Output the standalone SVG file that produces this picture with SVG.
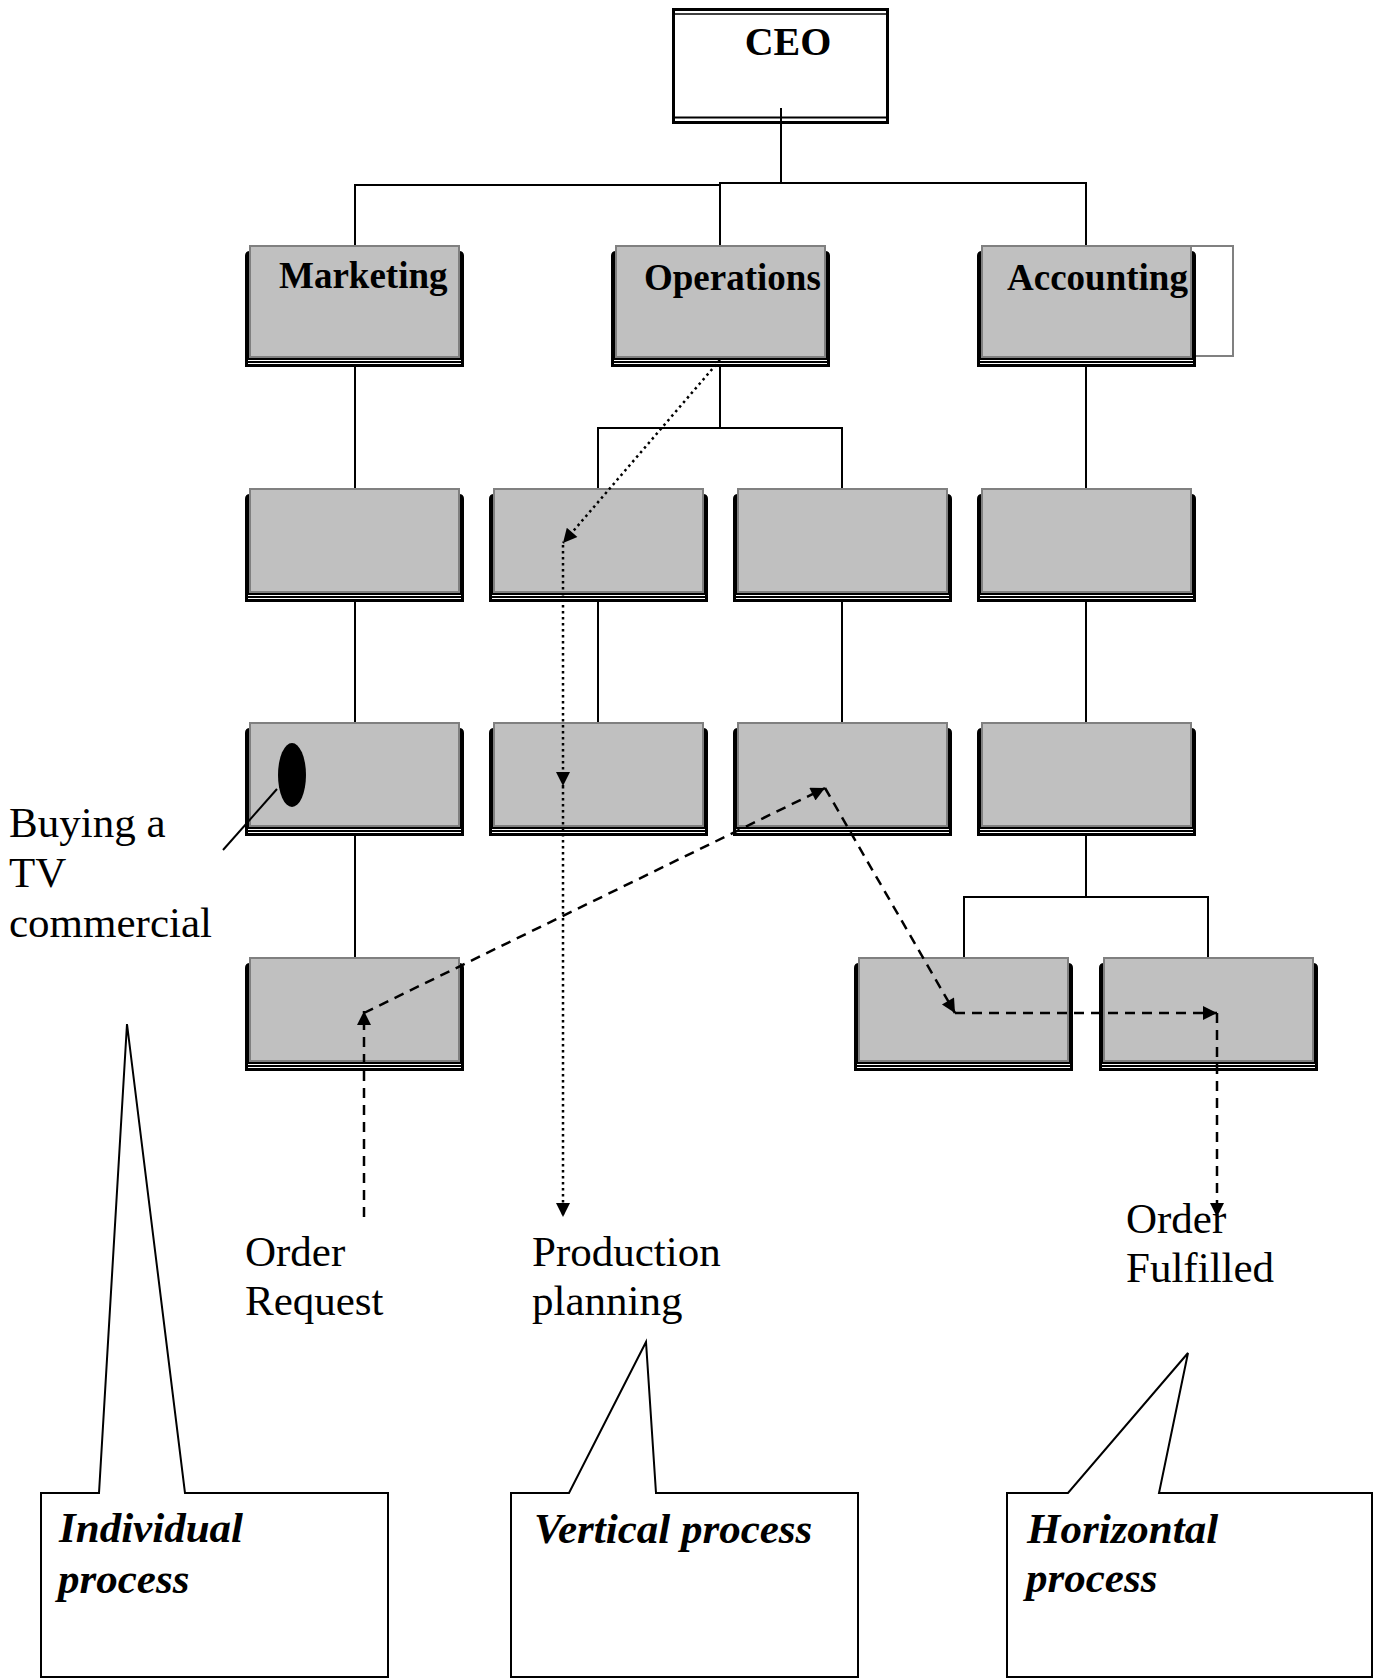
<svg xmlns="http://www.w3.org/2000/svg" xmlns:xlink="http://www.w3.org/1999/xlink" width="1374" height="1678" viewBox="0 0 1374 1678">
<style>
.bg{fill:#fff}
.lbl{font-family:"Liberation Serif","Times New Roman",serif;fill:#000}
.head{font-size:37px;font-weight:bold}
.note{font-size:43px}
.call{font-size:43px;font-weight:bold;font-style:italic}
.tree{fill:none;stroke:#000;stroke-width:2}
.dash{fill:none;stroke:#000;stroke-width:2.5;stroke-dasharray:10 7}
.dot{fill:none;stroke:#000;stroke-width:2.5;stroke-dasharray:2.5 3.5}
.callout{fill:#fff;stroke:#000;stroke-width:2}
</style>
<defs>
<marker id="ah" viewBox="0 0 10 10" refX="10" refY="5" markerWidth="16" markerHeight="14" markerUnits="userSpaceOnUse" orient="auto"><path d="M0,0 L10,5 L0,10 Z" fill="#000"/></marker>
<g id="boxS">
<path d="M-5,10 Q-5,5 0,5 H209 Q214,5 214,10 V113 H-5 Z" fill="#000"/>
<line x1="-2" y1="106.5" x2="211" y2="106.5" stroke="#fff" stroke-width="1"/>
<line x1="-2" y1="109.5" x2="211" y2="109.5" stroke="#fff" stroke-width="1"/>
<rect x="0" y="0" width="209" height="103" fill="#c0c0c0" stroke="#808080" stroke-width="2"/>
</g>
<g id="boxT">
<path d="M-5,10 Q-5,5 0,5 H209 Q214,5 214,10 V121 H-5 Z" fill="#000"/>
<line x1="-2" y1="114.5" x2="211" y2="114.5" stroke="#fff" stroke-width="1"/>
<line x1="-2" y1="117.5" x2="211" y2="117.5" stroke="#fff" stroke-width="1"/>
<rect x="0" y="0" width="209" height="111" fill="#c0c0c0" stroke="#808080" stroke-width="2"/>
</g>
</defs>
<rect class="bg" x="0" y="0" width="1374" height="1678"/>

<g id="connectors">
<path class="tree" d="M781,114 V183 H1086 V246"/>
<path class="tree" d="M355,246 V185 H720 V183 H781"/>
<path class="tree" d="M720,185 V246"/>
<path class="tree" d="M355,357 V489 M355,591 V723 M355,827 V958"/>
<path class="tree" d="M720,357 V428 M598,489 V428 H842 V489"/>
<path class="tree" d="M598,591 V723 M842,591 V723"/>
<path class="tree" d="M1086,357 V489 M1086,591 V723 M1086,827 V897"/>
<path class="tree" d="M964,958 V897 H1208 V958"/>
</g>

<g id="ceo">
<rect x="673.5" y="9.5" width="214" height="113" fill="#fff" stroke="#000" stroke-width="3"/>
<line x1="673" y1="14" x2="888" y2="14" stroke="#000" stroke-width="1.5"/>
<line x1="673" y1="117.5" x2="888" y2="117.5" stroke="#000" stroke-width="2"/>
<text class="lbl" x="788" y="55" font-size="40" font-weight="bold" text-anchor="middle">CEO</text>
</g>
<line x1="781" y1="108" x2="781" y2="123" stroke="#000" stroke-width="2"/>

<g id="marketing">
<use xlink:href="#boxT" x="250" y="246"/>
<text class="lbl head" x="279" y="288">Marketing</text>
</g>
<g id="operations">
<use xlink:href="#boxT" x="616" y="246"/>
<text class="lbl head" x="644" y="290">Operations</text>
</g>
<g id="accounting">
<rect x="982" y="246" width="251" height="110" fill="none" stroke="#808080" stroke-width="2"/>
<use xlink:href="#boxT" x="982" y="246"/>
<text class="lbl head" x="1007" y="290">Accounting</text>
</g>

<g id="m2"><use xlink:href="#boxS" x="250" y="489"/></g>
<g id="o2a"><use xlink:href="#boxS" x="494" y="489"/></g>
<g id="o2b"><use xlink:href="#boxS" x="738" y="489"/></g>
<g id="a2"><use xlink:href="#boxS" x="982" y="489"/></g>

<g id="m3">
<use xlink:href="#boxS" x="250" y="723"/>
<ellipse cx="292" cy="775" rx="14" ry="32" fill="#000"/>
</g>
<g id="o3a"><use xlink:href="#boxS" x="494" y="723"/></g>
<g id="o3b"><use xlink:href="#boxS" x="738" y="723"/></g>
<g id="a3"><use xlink:href="#boxS" x="982" y="723"/></g>

<g id="m4"><use xlink:href="#boxS" x="250" y="958"/></g>
<g id="a4a"><use xlink:href="#boxS" x="859" y="958"/></g>
<g id="a4b"><use xlink:href="#boxS" x="1104" y="958"/></g>

<g id="flows">
<path class="dot" d="M720,360 L563,543" marker-end="url(#ah)"/>
<path class="dot" d="M563,545 V786" marker-end="url(#ah)"/>
<path class="dot" d="M563,786 V1217" marker-end="url(#ah)"/>
<path class="dash" d="M364,1217 V1011" marker-end="url(#ah)"/>
<path class="dash" d="M364,1013 L825,788" marker-end="url(#ah)"/>
<path class="dash" d="M825,788 L955,1013" marker-end="url(#ah)"/>
<path class="dash" d="M955,1013 H1217" marker-end="url(#ah)"/>
<path class="dash" d="M1217,1013 V1217" marker-end="url(#ah)"/>
<line x1="223" y1="850" x2="277" y2="789" stroke="#000" stroke-width="2"/>
</g>

<g id="labels">
<text class="lbl note" x="9" y="837">Buying a</text>
<text class="lbl note" x="9" y="887">TV</text>
<text class="lbl note" x="9" y="937">commercial</text>
<text class="lbl note" x="245" y="1266">Order</text>
<text class="lbl note" x="245" y="1315">Request</text>
<text class="lbl note" x="532" y="1266">Production</text>
<text class="lbl note" x="532" y="1315">planning</text>
<text class="lbl note" x="1126" y="1233">Order</text>
<text class="lbl note" x="1126" y="1282">Fulfilled</text>
</g>

<g id="individual">
<path class="callout" d="M41,1677 V1493 H99 L127,1024 L185,1493 H388 V1677 Z"/>
<text class="lbl call" x="59" y="1542">Individual</text>
<text class="lbl call" x="58" y="1593">process</text>
</g>
<g id="vertical">
<path class="callout" d="M511,1677 V1493 H569 L646,1342 L656,1493 H858 V1677 Z"/>
<text class="lbl call" x="534" y="1543">Vertical process</text>
</g>
<g id="horizontal">
<path class="callout" d="M1007,1677 V1493 H1068 L1188,1353 L1159,1493 H1372 V1677 Z"/>
<text class="lbl call" x="1027" y="1543">Horizontal</text>
<text class="lbl call" x="1026" y="1592">process</text>
</g>
</svg>
